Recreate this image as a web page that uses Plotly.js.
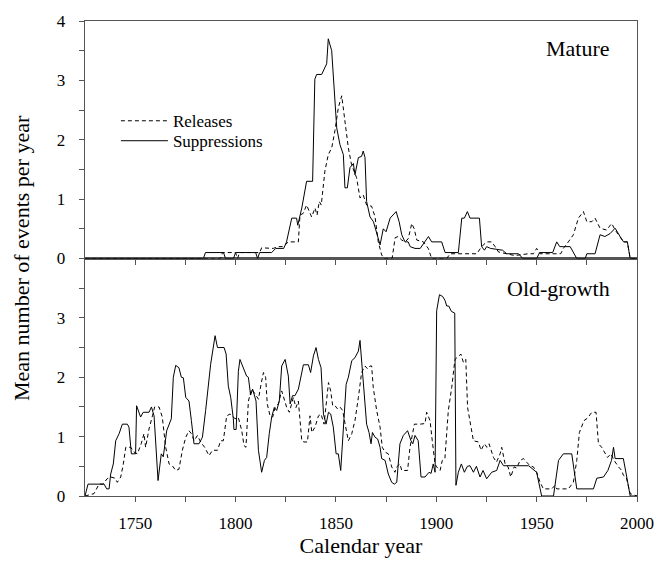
<!DOCTYPE html>
<html>
<head>
<meta charset="utf-8">
<script src="https://cdn.plot.ly/plotly-3.0.1.min.js"></script>
<style>html,body{margin:0;padding:0;background:#fff;}#chart{width:658px;height:566px;}</style>
</head>
<body>
<div id="chart"></div>
<script>
// ---- Mature stand ----
var matRelYears = [1725,1792.5,1793.5,1800,1801,1802,1812,1813,1818.8,1821,1823.8,1826.3,1831.3,1832.1,1833.7,1835.4,1837.9,1839.6,1840.6,1841.7,1842.7,1844.5,1846.2,1847.9,1849.5,1851.2,1852.9,1854.5,1856.2,1857.8,1860.3,1862,1863.6,1865.3,1867.8,1869.5,1871.1,1872.8,1874,1878,1879.5,1881,1882.8,1884.4,1886,1887.8,1889,1890.3,1893.6,1896,1897.7,1905.2,1906.9,1920.2,1922.6,1925.1,1927.6,1929.3,1931,1935,1939,1946,1948.4,1950,1951.7,1962,1963.3,1965.8,1968.3,1970.8,1973.3,1975,1977.5,1979.1,1981.6,1984.8,1987.4,1989.1,1991.6,1993.3,1995.2,1996.6,2000];
var matRelVals  = [0,0,0.1,0.1,0,0.1,0.1,0.18,0.17,0.2,0.2,0.28,0.28,0.73,0.76,0.9,0.7,0.85,0.73,0.96,0.9,1.47,1.75,1.86,2.15,2.54,2.74,2.32,1.86,1.58,1.36,1.02,1.07,0.9,0.88,0.7,0.28,0.06,0,0,0.35,0.37,0.31,0.28,0.33,0.59,0.5,0.31,0.28,0.17,0,0,0.08,0.08,0.2,0.28,0.28,0.2,0.11,0.08,0.05,0.08,0.08,0.17,0.08,0.08,0.17,0.28,0.4,0.68,0.79,0.62,0.62,0.68,0.51,0.48,0.59,0.48,0.37,0.28,0.28,0,0];
var matSupYears = [1725,1784,1785,1794,1795,1799,1800,1810,1811,1812,1818,1820,1824,1825.4,1828,1830.4,1831,1833,1835.4,1838.4,1839.5,1840.4,1842.9,1845.4,1846.2,1847.9,1850.4,1852,1853.7,1854.5,1855.7,1857,1858.7,1859.5,1861.2,1862.8,1863.6,1864.5,1865.3,1867,1868.7,1870,1872,1873.6,1875,1877,1880,1881.5,1882.8,1884.4,1886,1887,1889.4,1892,1894.4,1896.1,1897.7,1902.7,1904.4,1911,1912.7,1914,1915.5,1916.8,1921.5,1922.6,1924,1925.1,1927,1933,1935.1,1941,1943.1,1950,1951.5,1958,1960,1961.5,1963.3,1966.7,1970,1974.2,1975,1979.1,1981.6,1984,1986.6,1989.1,1991.6,1993.3,1995.2,1996.6,2000];
var matSupVals  = [0,0,0.1,0.1,0,0,0.1,0.1,0,0.1,0.1,0.17,0.17,0.28,0.68,0.68,0.56,0.85,1.3,1.3,3.02,3.1,3.1,3.28,3.7,3.5,2.2,1.92,1.75,1.19,1.19,1.53,1.6,1.41,1.7,1.72,1.81,1.7,0.96,0.7,0.62,0.45,0.23,0.5,0.45,0.68,0.79,0.62,0.4,0.28,0.28,0.2,0.17,0.17,0.28,0.37,0.28,0.28,0.1,0.1,0.68,0.68,0.79,0.68,0.68,0.2,0.14,0.2,0.17,0.14,0.08,0.08,0,0,0.1,0.1,0.28,0.2,0.2,0.2,0,0,0.08,0.08,0.4,0.37,0.42,0.51,0.37,0.28,0.28,0,0];

// ---- Old-growth stand ----
var ogRelYears = [1725,1729.5,1732,1734,1736,1737.8,1740,1741.1,1742.8,1744.1,1745.3,1747.8,1749.4,1751.1,1753,1754.4,1755.2,1756.9,1758.6,1759.7,1761.9,1763.5,1765.2,1766.9,1768.5,1770.2,1771.8,1773.5,1775.2,1776.8,1778,1779.4,1781,1782.6,1784.6,1786.8,1788.5,1791,1792.6,1793.9,1795.6,1797.2,1798.5,1799.7,1801.4,1803.1,1804.2,1805.2,1806.4,1808,1809.7,1811.4,1812.7,1813.9,1815,1815.8,1817.2,1818.5,1819.7,1821.3,1823,1824.1,1825.5,1826.8,1827.9,1828.8,1830.1,1831.3,1833,1834.1,1835.8,1837.1,1838,1839.6,1841.3,1842.6,1844.1,1845.1,1846.3,1847.4,1848.4,1849.6,1850.7,1852,1853.4,1854.6,1856.2,1857.9,1859.5,1861.2,1862.8,1864.5,1865.8,1867,1867.8,1868.6,1870.3,1872,1873.1,1874.5,1876.1,1877.8,1879.4,1880.3,1881.9,1882.8,1885.7,1886.9,1889.1,1891.9,1894.4,1895.2,1896.9,1898,1899.4,1900.2,1901.9,1903,1904.3,1906,1907.7,1909.3,1911,1912.3,1913.5,1914.7,1915.6,1917.3,1918.5,1921,1922.3,1924,1925.2,1926.3,1928.5,1930,1931.8,1932.6,1934.3,1935.8,1937.1,1938.8,1940,1941.8,1943.5,1945,1946.7,1948.4,1950,1951.7,1953.4,1957.5,1959.2,1960,1965.8,1968.3,1970,1971.3,1972,1973.6,1975.3,1977.5,1979.6,1980.8,1982.4,1984.1,1985.3,1987,1988.6,1990.8,1992.4,1993.2,1994.6,1996.6,2000];
var ogRelVals  = [0,0.04,0.2,0.2,0.29,0.32,0.3,0.23,0.32,0.54,0.82,0.82,0.74,0.71,0.88,1.05,0.82,1.13,1.35,1.5,1.5,1.33,0.82,0.54,0.51,0.43,0.45,0.77,0.99,1.1,1.05,0.93,1.02,0.91,0.82,0.68,0.77,0.77,0.93,0.93,1.35,1.38,1.35,1.3,1.32,1.1,0.85,0.82,1.6,1.8,1.72,1.63,1.88,2.08,2.0,1.55,1.35,1.33,1.49,1.55,1.77,1.63,1.49,1.41,1.58,1.66,1.49,1.6,0.93,0.91,0.91,1.35,1.07,1.16,1.35,1.38,1.21,1.49,1.91,1.77,1.52,1.52,1.47,1.5,1.44,1.21,0.93,1.05,1.27,1.66,2.08,2.19,2.14,2.19,2.19,1.83,1.44,1.16,0.82,0.74,0.71,0.49,0.4,0.49,0.54,0.43,0.43,0.82,1.21,1.21,1.22,1.41,1.27,0.93,0.54,0.49,0.43,0.6,0.63,1.44,1.83,2.3,2.36,2.39,2.25,2.3,1.49,1.16,0.93,0.91,0.77,0.88,0.82,0.88,0.65,0.57,0.71,0.82,0.54,0.49,0.32,0.49,0.47,0.6,0.63,0.57,0.51,0.49,0.4,0.23,0.12,0.12,0.18,0.12,0.12,0.23,0.6,1.07,1.13,1.27,1.31,1.41,1.41,0.88,0.82,0.71,0.65,0.71,0.6,0.49,0.43,0.35,0.32,0.04,0];
var ogSupYears = [1725,1726.5,1734.5,1735.8,1737,1737.8,1739.1,1740.3,1742,1743.6,1746.1,1746.9,1748.1,1750.2,1750.7,1752.7,1754,1756.9,1758.1,1759.4,1761.4,1763,1764,1765.7,1768,1769,1770.2,1771.8,1773,1774,1775.2,1776.8,1778,1779.3,1781.8,1783.5,1785.1,1787.6,1789.8,1791,1794.3,1795.3,1796.4,1797.6,1798.9,1799.2,1800.3,1801.4,1802.2,1803.9,1805.5,1806.4,1807.5,1808.5,1810.2,1811.4,1813,1814.4,1815.5,1816.8,1818,1819.3,1820.5,1821.8,1823,1824.7,1826.3,1827.2,1828.4,1829.6,1831.3,1833.8,1836.3,1837.4,1838.8,1840.1,1841.3,1842.6,1843.8,1845.1,1846.3,1847.4,1848.7,1850.1,1851.2,1852.4,1853.7,1855.1,1856.2,1857.9,1859.5,1861.2,1862,1863.2,1864.5,1865.3,1866.5,1867.5,1868.2,1869.5,1870.8,1872,1872.8,1874.5,1876.1,1877.8,1879.1,1880.3,1881.9,1883.6,1885.7,1887.4,1888.3,1889.4,1891,1891.9,1892.4,1894.4,1896.4,1897.4,1898.5,1899.4,1900.2,1901.6,1903.2,1904.4,1905.2,1906.2,1907.5,1909.2,1909.8,1911,1912.5,1914,1915.5,1916.8,1918.5,1920,1921.8,1923.3,1925.1,1927.6,1930.1,1931.8,1933.5,1946,1947.6,1950,1952.5,1958.4,1960.9,1963.3,1967.5,1970,1978.3,1980,1983.3,1985.5,1987.3,1988.3,1989.1,1993.2,1994.9,1996.6,2000];
var ogSupVals  = [0,0.2,0.2,0.12,0.12,0.37,0.54,0.93,1.05,1.21,1.21,1.16,0.71,0.71,1.52,1.33,1.41,1.41,1.5,1.35,0.26,0.71,0.66,1.1,1.3,2.0,2.2,2.16,2.0,1.99,1.66,1.6,1.27,0.88,0.88,0.99,1.44,2.22,2.7,2.5,2.5,2.39,1.85,1.66,1.3,1.12,1.12,2.1,2.3,2.16,2.02,2.0,1.7,1.8,1.6,0.77,0.4,0.6,0.65,1.05,1.33,1.49,1.44,1.6,2.19,2.3,2.02,1.55,1.69,1.69,1.8,2.21,2.21,2.08,2.36,2.5,2.3,2.16,1.38,1.21,1.41,1.38,1.16,0.71,0.71,0.43,1.05,1.88,2.0,2.28,2.33,2.44,2.62,2.1,1.6,1.21,1.07,0.88,1.07,0.99,0.96,0.82,0.63,0.6,0.37,0.23,0.2,0.23,0.88,1.02,1.1,0.93,0.88,1.02,0.93,0.49,0.32,0.32,0.4,0.38,0.54,0.4,3.12,3.39,3.36,3.29,3.2,3.2,3.11,3.08,0.18,0.4,0.54,0.4,0.5,0.51,0.4,0.5,0.32,0.43,0.29,0.4,0.43,0.6,0.51,0.51,0.46,0.4,0,0,0.6,0.71,0.71,0.12,0.12,0.3,0.32,0.43,0.6,0.82,0.63,0.63,0.32,0,0];

// ---- axis ticks ----
var xTickVals = [1750,1775,1800,1825,1850,1875,1900,1925,1950,1975,2000];
var xTickText = ['1750','','1800','','1850','','1900','','1950','','2000'];
var yTopTickVals = [0,0.5,1,1.5,2,2.5,3,3.5,4];
var yTopTickText = ['0','','1','','2','','3','','4'];
var yBotTickVals = [0,0.5,1,1.5,2,2.5,3,3.5];
var yBotTickText = ['0','','1','','2','','3',''];

var FONT = 'Liberation Serif';
var AX = '#555';

var relLine = {color:'#000', width:1, dash:'4px,3px'};
var supLine = {color:'#000', width:1, dash:'solid'};

var traces = [
  {x: matRelYears, y: matRelVals, xaxis:'x2', yaxis:'y2', mode:'lines', name:'Releases', line: relLine, legendgroup:'rel', showlegend:true, legend:'legend'},
  {x: matSupYears, y: matSupVals, xaxis:'x2', yaxis:'y2', mode:'lines', name:'Suppressions', line: supLine, legendgroup:'sup', showlegend:true, legend:'legend2'},
  {x: ogRelYears, y: ogRelVals, xaxis:'x', yaxis:'y', mode:'lines', name:'Releases', line: relLine, legendgroup:'rel', showlegend:false},
  {x: ogSupYears, y: ogSupVals, xaxis:'x', yaxis:'y', mode:'lines', name:'Suppressions', line: supLine, legendgroup:'sup', showlegend:false}
];

function xax(extra){
  return Object.assign({
    range:[1725,2000], tickvals:xTickVals, ticktext:xTickText, ticks:'outside', ticklen:5,
    tickcolor:AX, showline:true, linecolor:AX, linewidth:1.3, mirror:true,
    showgrid:false, zeroline:false, tickfont:{family:FONT, size:17, color:'#000'}
  }, extra);
}
function yax(extra){
  return Object.assign({
    range:[0,4], ticks:'outside', ticklen:5, tickcolor:AX, showline:true, linecolor:AX, linewidth:1.3,
    mirror:true, showgrid:false, zeroline:false, ticklabelstandoff:10,
    tickfont:{family:FONT, size:17, color:'#000'}
  }, extra);
}
function leg(y){
  return {x:0.056, y:y, xanchor:'left', yanchor:'middle', bgcolor:'rgba(0,0,0,0)',
          font:{family:FONT, size:17, color:'#000'}, itemwidth:47};
}

var layout = {
  width:658, height:566,
  margin:{l:85, r:21, t:21, b:70},
  paper_bgcolor:'#fff', plot_bgcolor:'#fff',
  font:{family:FONT, color:'#000'},
  showlegend:true,
  legend: leg(0.789),
  legend2: leg(0.747),
  xaxis: xax({anchor:'y', domain:[0,1], ticklabelstandoff:6,
              title:{text:'Calendar year', font:{family:FONT, size:22, color:'#000'}, standoff:3}}),
  xaxis2: xax({anchor:'y2', domain:[0,1], matches:'x', showticklabels:false}),
  yaxis: yax({domain:[0,0.5], tickvals:yBotTickVals, ticktext:yBotTickText}),
  yaxis2: yax({domain:[0.5,1], tickvals:yTopTickVals, ticktext:yTopTickText}),
  annotations:[
    {text:'Mean number of events per year', xref:'paper', yref:'paper', x:-0.115, y:0.5,
     xanchor:'center', yanchor:'middle', textangle:-90, showarrow:false,
     font:{family:FONT, size:22, color:'#000'}},
    {text:'Mature', xref:'paper', yref:'paper', x:0.955, y:0.9415, xanchor:'right', yanchor:'middle',
     showarrow:false, font:{family:FONT, size:22, color:'#000'}},
    {text:'Old-growth', xref:'paper', yref:'paper', x:0.955, y:0.436, xanchor:'right', yanchor:'middle',
     showarrow:false, font:{family:FONT, size:22, color:'#000'}}
  ]
};

Plotly.newPlot('chart', traces, layout, {displayModeBar:false, staticPlot:true});
</script>
</body>
</html>
